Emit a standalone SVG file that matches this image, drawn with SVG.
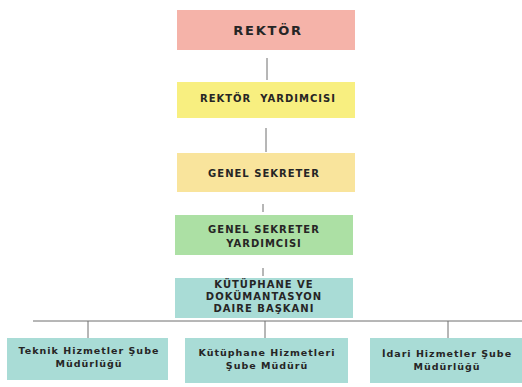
<svg xmlns="http://www.w3.org/2000/svg" width="522" height="387" viewBox="0 0 522 387">
<style>
text{font-family:"DejaVu Sans","Liberation Sans",sans-serif;font-weight:bold;fill:#262525;text-anchor:middle}
.t{font-size:10px;letter-spacing:1px}
.s{font-size:9.5px;letter-spacing:1px}
.c{stroke:#6e6e6e;stroke-width:1;fill:none}
</style>
<rect width="522" height="387" fill="#ffffff"/>
<g id="connectors">
<line class="c" x1="267" y1="58" x2="267" y2="80"/>
<line class="c" x1="266" y1="128" x2="266" y2="152"/>
<line class="c" x1="263" y1="204" x2="263" y2="212"/>
<line class="c" x1="263" y1="268" x2="263" y2="276"/>
<line class="c" x1="33" y1="321" x2="522" y2="321"/>
<line class="c" x1="88" y1="321" x2="88" y2="338"/>
<line class="c" x1="265" y1="321" x2="265" y2="338"/>
<line class="c" x1="448" y1="321" x2="448" y2="338"/>
</g>
<g id="rektor">
<rect x="177" y="10" width="178" height="40" fill="#f5b3a9"/>
<text x="268" y="35" font-size="13" letter-spacing="1.8">REKTÖR</text>
</g>
<g id="rektor-yardimcisi">
<rect x="177" y="82" width="178" height="36" fill="#f8ef80"/>
<text class="t" x="268" y="102" xml:space="preserve">REKTÖR  YARDIMCISI</text>
</g>
<g id="genel-sekreter">
<rect x="177" y="153" width="178" height="39" fill="#f9e49c"/>
<text class="t" x="264" y="177">GENEL SEKRETER</text>
</g>
<g id="genel-sekreter-yardimcisi">
<rect x="175" y="215" width="178" height="40" fill="#ace0a4"/>
<text class="t" x="264" y="233">GENEL SEKRETER</text>
<text class="t" x="264" y="247">YARDIMCISI</text>
</g>
<g id="kutuphane">
<rect x="175" y="278" width="178" height="40" fill="#a9dcd6"/>
<text class="t" x="264" y="288">KÜTÜPHANE VE</text>
<text class="t" x="264" y="300">DOKÜMANTASYON</text>
<text class="t" x="264" y="312">DAIRE BAŞKANI</text>
</g>
<g id="teknik">
<rect x="7" y="338" width="161" height="42" fill="#a9dcd6"/>
<text class="s" x="89" y="354">Teknik Hizmetler Şube</text>
<text class="s" x="89" y="367">Müdürlüğü</text>
</g>
<g id="kutuphane-hizmetleri">
<rect x="185" y="338" width="163" height="45" fill="#a9dcd6"/>
<text class="s" x="267" y="356">Kütüphane Hizmetleri</text>
<text class="s" x="267" y="369">Şube Müdürü</text>
</g>
<g id="idari">
<rect x="370" y="338" width="152" height="45" fill="#a9dcd6"/>
<text class="s" x="447" y="357">İdari Hizmetler Şube</text>
<text class="s" x="447" y="370">Müdürlüğü</text>
</g>
</svg>
